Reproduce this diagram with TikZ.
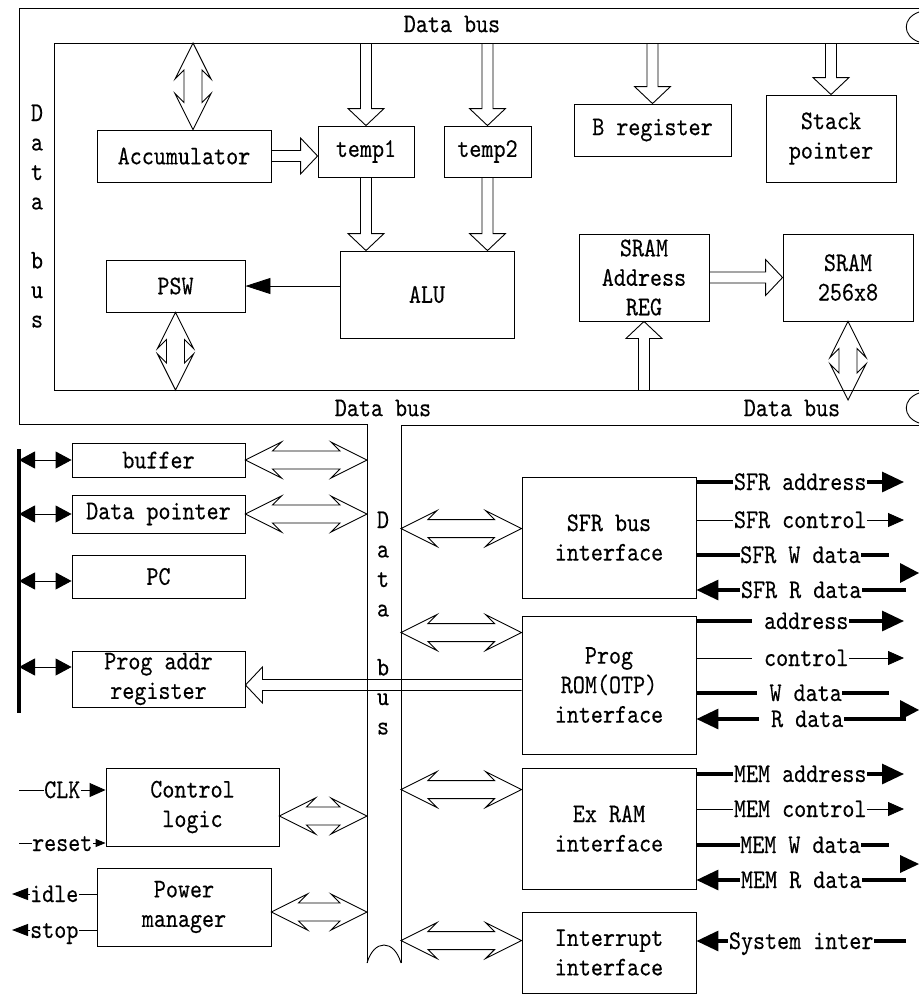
\documentclass[tikz,border=0pt]{standalone}
\usepackage{fontspec}
\usepackage{tikz}
\usetikzlibrary{calc}
\usetikzlibrary{arrows.meta}
\newfontfamily\diagfont{lmmono10-regular.otf}[FakeStretch=0.85,FakeBold=0.3]
\newcommand{\blk}[6]{\node[blk, minimum width=#4pt, minimum height=#5pt] (#1) at (#2,#3) {#6};}
\newcommand{\fatarrow}[2]{
  \coordinate (fa) at (#1); \coordinate (fb) at (#2);
  \coordinate (fq) at ($(fb)!17pt!(fa)$);
  \draw[fatline] ($(fa)!5.5pt!90:(fb)$) -- ($(fq)!5.5pt!90:(fb)$) -- ($(fq)!18pt!90:(fb)$) -- (fb)
    -- ($(fq)!18pt!-90:(fb)$) -- ($(fq)!5.5pt!-90:(fb)$) -- ($(fa)!5.5pt!-90:(fb)$);}
\newcommand{\dblarrow}[2]{
  \coordinate (da) at (#1); \coordinate (db) at (#2);
  \coordinate (dh) at ($(da)!36pt!(db)$); \coordinate (ds) at ($(da)!27pt!(db)$);
  \coordinate (eh) at ($(db)!36pt!(da)$); \coordinate (es) at ($(db)!27pt!(da)$);
  \draw[fatline] (da) -- ($(dh)!18pt!90:(db)$) -- ($(ds)!9pt!90:(db)$) -- ($(es)!9pt!-90:(da)$)
    -- ($(eh)!18pt!-90:(da)$) -- (db) -- ($(eh)!18pt!90:(da)$) -- ($(es)!9pt!90:(da)$)
    -- ($(ds)!9pt!-90:(db)$) -- ($(dh)!18pt!-90:(db)$) -- cycle;}
\tikzset{
  every node/.style={font=\diagfont\fontsize{27}{29.5}\selectfont},
  blk/.style={draw, line width=0.9pt, inner sep=0pt, align=center},
  busline/.style={line width=0.9pt},
  fatline/.style={line width=0.9pt},
  sig/.style={line width=0.9pt},
  sigthick/.style={line width=3.2pt},
  lbl/.style={fill=white, inner sep=0.5pt, text height=16pt, text depth=0pt},
  bigtip/.tip={Triangle[length=22pt,width=20pt]},
  midtip/.tip={Triangle[length=16pt,width=14pt]},
  smalltip/.tip={Triangle[length=10pt,width=8pt]},
  outtip/.tip={Triangle[length=16pt,width=12pt]},
  lrtip/.tip={Triangle[length=16pt,width=17pt]}
}
\begin{document}
\begin{tikzpicture}[x=1pt,y=-1pt]
        \useasboundingbox (0,0) rectangle (919,994);

        % data bus
        \draw[busline] (919,8) -- (19,8) -- (19,424) -- (367,424) -- (367,963);
        \draw[busline] (401,963) -- (401,425) -- (919,425);
        \draw[busline] (919,43) -- (54,43) -- (54,390) -- (919,390);
        \draw[busline] (919,12) .. controls (902,18) and (902,36) .. (919,42);
        \draw[busline] (919,393) .. controls (902,399) and (902,417) .. (919,423);
        \draw[busline] (367,963) .. controls (374,939) and (394,939) .. (401,963);
        \coordinate (ibt) at (54,43);
        \coordinate (ibb) at (54,390);
        \coordinate (vbl) at (367,424);
        \coordinate (vbr) at (401,425);

        \node (dbtop) at (452,24) {Data bus};
        \node (dbmid) at (383,408) {Data bus};
        \node (dbright) at (792,408) {Data bus};
        \foreach \ch/\k in {D/0,a/1,t/2,a/3,b/5,u/6,s/7} {
            \node[anchor=base] (lb\k) at (37,{121+29.5*\k}) {\ch};
            \node[anchor=base] (mb\k) at (383,{528+29.5*\k}) {\ch};
        }

        % top blocks
        \blk{acc}{184}{156}{174}{52}{Accumulator}
        \blk{temp1}{366}{151.5}{96}{51}{temp1}
        \blk{temp2}{487.5}{151.5}{87}{51}{temp2}
        \blk{breg}{652.5}{130}{157}{52}{B register}
        \blk{stack}{831}{138.5}{130}{87}{Stack\\pointer}
        \blk{alu}{427}{294.5}{174}{87}{ALU}
        \blk{psw}{175.5}{286}{139}{52}{PSW}
        \blk{sramreg}{644}{277.5}{130}{87}{SRAM\\Address\\REG}
        \blk{sram}{848}{277.5}{130}{87}{SRAM\\256x8}

        \coordinate (accup) at ($(acc.north)+(9,0)$);
        \dblarrow{accup |- ibt}{accup}
        \fatarrow{temp1.north |- ibt}{temp1.north}
        \fatarrow{temp2.north |- ibt}{temp2.north}
        \fatarrow{breg.north |- ibt}{breg.north}
        \fatarrow{stack.north |- ibt}{stack.north}
        \fatarrow{acc.east}{acc.east -| temp1.west}
        \fatarrow{temp1.south}{temp1.south |- alu.north}
        \fatarrow{temp2.south}{temp2.south |- alu.north}
        \draw[sig, -{Triangle[length=25pt,width=16pt]}] (alu.west |- psw.east) -- (psw.east);
        \dblarrow{psw.south}{psw.south |- ibb}
        \fatarrow{sramreg.south |- ibb}{sramreg.south}
        \fatarrow{sramreg.east}{sramreg.east -| sram.west}
        \coordinate (sramdn) at ($(sram.south |- ibb)+(0,10)$);
        \dblarrow{sram.south}{sramdn}

        % left blocks
        \blk{buf}{158.5}{460}{173}{34}{buffer}
        \blk{dptr}{158.5}{514}{173}{38}{Data pointer}
        \blk{pc}{158.5}{576.5}{173}{43}{PC}
        \blk{paddr}{158.5}{679}{173}{56}{Prog addr\\register}
        \blk{ctrl}{192.5}{807}{173}{78}{Control\\logic}
        \blk{pwr}{184}{907}{174}{78}{Power\\manager}

        \coordinate (lbtop) at (19,449);
        \coordinate (lbbot) at (19,713);
        \draw[line width=3.3pt] (lbtop) -- (lbbot);
        \coordinate (pcin) at ($(pc.west)+(0,4.5)$);
        \coordinate (pain) at ($(paddr.west)+(0,-12)$);
        \draw[sig, {lrtip}-{lrtip}] (lbtop |- buf.west) -- (buf.west);
        \draw[sig, {lrtip}-{lrtip}] (lbtop |- dptr.west) -- (dptr.west);
        \draw[sig, {lrtip}-{lrtip}] (lbtop |- pcin) -- (pcin);
        \draw[sig, {lrtip}-{lrtip}] (lbtop |- pain) -- (pain);

        \dblarrow{buf.east}{buf.east -| vbl}
        \dblarrow{dptr.east}{dptr.east -| vbl}
        \coordinate (ctrlout) at ($(ctrl.east)+(0,9)$);
        \dblarrow{ctrlout}{ctrlout -| vbl}
        \coordinate (pwrout) at ($(pwr.east)+(0,5)$);
        \dblarrow{pwrout}{pwrout -| vbl}

        \coordinate (clkin) at (19,790);
        \draw[sig, -{midtip}] (clkin) -- node[lbl] (clk) {CLK} (clkin -| ctrl.west);
        \coordinate (rstin) at (19,843);
        \draw[sig, -{smalltip}] (rstin) -- node[lbl] (rst) {reset} (rstin -| ctrl.west);
        \coordinate (idleout) at (12,894);
        \draw[sig, -{outtip}] (idleout -| pwr.west) -- node[lbl] (idle) {idle} (idleout);
        \coordinate (stopout) at (12,930);
        \draw[sig, -{outtip}] (stopout -| pwr.west) -- node[lbl] (stop) {stop} (stopout);

        % right blocks
        \blk{sfr}{609}{537.5}{174}{121}{SFR bus\\interface}
        \blk{rom}{609}{685}{174}{138}{Prog\\ROM(OTP)\\interface}
        \blk{exram}{609}{828.5}{174}{121}{Ex RAM\\interface}
        \blk{intr}{609}{952.5}{174}{81}{Interrupt\\interface}

        \coordinate (sfrin) at ($(sfr.north west)+(0,52)$);
        \dblarrow{vbr |- sfrin}{sfrin}
        \coordinate (romin) at ($(rom.north west)+(0,17)$);
        \dblarrow{vbr |- romin}{romin}
        \coordinate (exin) at ($(exram.north west)+(0,22)$);
        \dblarrow{vbr |- exin}{exin}
        \coordinate (intin) at ($(intr.north west)+(0,29)$);
        \dblarrow{vbr |- intin}{intin}
        \fatarrow{rom.west}{rom.west -| paddr.east}

        % SFR signals
        \coordinate (sfraout) at (904,482);
        \draw[sigthick, -{bigtip}] (sfr.east |- sfraout) -- node[lbl] (sfra) {SFR address} (sfraout);
        \coordinate (sfrcout) at (904,520);
        \draw[sig, -{midtip}] (sfr.east |- sfrcout) -- node[lbl] (sfrc) {SFR control} (sfrcout);
        \coordinate (sfrwout) at (889,555);
        \draw[sigthick] (sfr.east |- sfrwout) -- node[lbl, pos=0.54] (sfrw) {SFR W data} (sfrwout);
        \coordinate (sfrrin) at (906,590);
        \draw[sigthick, -{bigtip}] (sfrrin) -- node[lbl] (sfrr) {SFR R data} (sfrrin -| sfr.east);
        \fill (900,563) -- (919,573) -- (900,583) -- cycle;

        % ROM signals
        \coordinate (romaout) at (904,621);
        \draw[sigthick, -{bigtip}] (rom.east |- romaout) -- node[lbl] (roma) {\hphantom{a}address} (romaout);
        \coordinate (romcout) at (904,658);
        \draw[sig, -{midtip}] (rom.east |- romcout) -- node[lbl] (romc) {\hphantom{a}control} (romcout);
        \coordinate (romwout) at (889,693);
        \draw[sigthick] (rom.east |- romwout) -- node[lbl, pos=0.536] (romw) {\hphantom{a}W data} (romwout);
        \coordinate (romrin) at (906,719);
        \draw[sigthick, -{bigtip}] (romrin) -- node[lbl] (romr) {\hphantom{a}R data} (romrin -| rom.east);
        \fill (900,700) -- (919,710) -- (900,720) -- cycle;

        % MEM signals
        \coordinate (memaout) at (904,774);
        \draw[sigthick, -{bigtip}] (exram.east |- memaout) -- node[lbl] (mema) {MEM address} (memaout);
        \coordinate (memcout) at (904,809);
        \draw[sig, -{midtip}] (exram.east |- memcout) -- node[lbl] (memc) {MEM control} (memcout);
        \coordinate (memwout) at (889,845);
        \draw[sigthick] (exram.east |- memwout) -- node[lbl, pos=0.54] (memw) {MEM W data} (memwout);
        \coordinate (memrin) at (906,880);
        \draw[sigthick, -{bigtip}] (memrin) -- node[lbl] (memr) {MEM R data} (memrin -| exram.east);
        \fill (900,855) -- (919,864) -- (900,873) -- cycle;

        % interrupt
        \coordinate (sysin) at (906,941);
        \draw[sigthick, -{bigtip}] (sysin) -- node[lbl] (sysi) {System inter} (sysin -| intr.east);

\end{tikzpicture}
\end{document}
